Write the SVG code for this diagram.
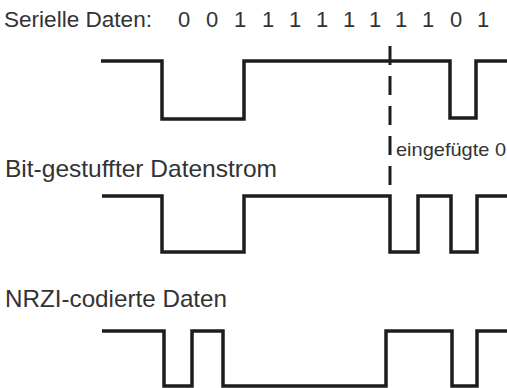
<svg xmlns="http://www.w3.org/2000/svg" width="507" height="388" viewBox="0 0 507 388">
<style>
.lbl{font-family:"Liberation Sans",Arial,sans-serif;font-size:24px;fill:#333}
.top{font-size:22.5px}
.bit{font-family:"Liberation Sans",Arial,sans-serif;font-size:22px;fill:#333;text-anchor:middle}
.note{font-family:"Liberation Sans",Arial,sans-serif;font-size:18.5px;fill:#333}
.wave{fill:none;stroke:#1e1c1c;stroke-width:3.5;stroke-linejoin:miter;stroke-linecap:butt}
.marker{fill:none;stroke:#1e1c1c;stroke-width:3;stroke-dasharray:19 11}
</style>
<rect width="507" height="388" fill="#fff"/>
<g id="serial">
<text class="lbl top" x="4" y="27" textLength="148" lengthAdjust="spacingAndGlyphs">Serielle Daten:</text>
<g id="bits">
<text class="bit" x="184" y="27">0</text>
<text class="bit" x="212" y="27">0</text>
<text class="bit" x="240" y="27">1</text>
<text class="bit" x="268" y="27">1</text>
<text class="bit" x="295" y="27">1</text>
<text class="bit" x="322" y="27">1</text>
<text class="bit" x="349" y="27">1</text>
<text class="bit" x="375" y="27">1</text>
<text class="bit" x="401" y="27">1</text>
<text class="bit" x="428" y="27">1</text>
<text class="bit" x="456" y="27">0</text>
<text class="bit" x="483" y="27">1</text>
</g>
<path class="wave" d="M101,61 H162 V119 H244 V61 H450 V118 H476 V61 H507"/>
</g>
<g id="stuffed">
<text class="lbl" x="5" y="177" textLength="272" lengthAdjust="spacingAndGlyphs">Bit-gestuffter Datenstrom</text>
<path class="wave" d="M102,196 H162 V252 H244 V196 H390 V252 H418 V196 H451 V252 H477 V196 H507"/>
</g>
<g id="nrzi">
<text class="lbl" x="5" y="307" textLength="222" lengthAdjust="spacingAndGlyphs">NRZI-codierte Daten</text>
<path class="wave" d="M102,331 H164 V386 H192 V331 H223 V386 H386 V331 H452 V386 H477 V331 H507"/>
</g>
<g id="connectors">
<line class="marker" x1="390" y1="46" x2="390" y2="185"/>
<text class="note" x="396" y="156" textLength="110" lengthAdjust="spacingAndGlyphs">eingefügte 0</text>
</g>
</svg>
